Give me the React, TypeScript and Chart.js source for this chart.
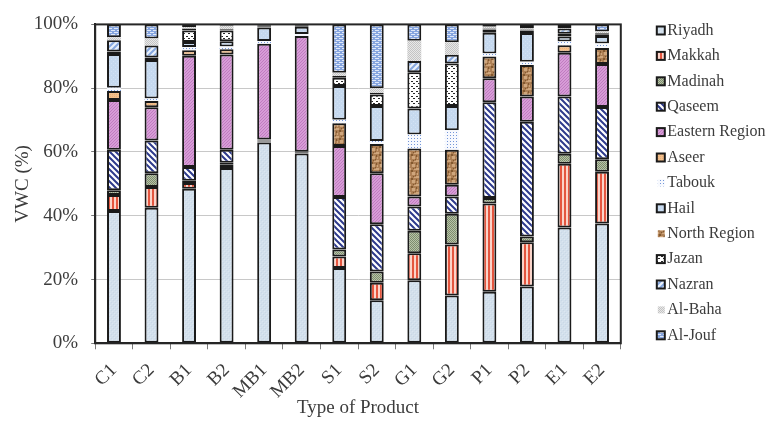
import React, { useEffect, useRef } from "react";
import { Chart, registerables } from "chart.js";

Chart.register(...registerables);

// ---------- data ----------
const CATEGORIES = ["C1", "C2", "B1", "B2", "MB1", "MB2", "S1", "S2", "G1", "G2", "P1", "P2", "E1", "E2"];

const RIYADH = [41.5, 42.5, 48.5, 55.0, 63.0, 59.5, 23.6, 13.5, 19.8, 15.0, 16.2, 17.8, 36.3, 37.6];
const MAKKAH = [5.0, 6.5, 1.8, 1.0, 0.3, 0.2, 3.6, 5.5, 8.4, 16.0, 27.6, 13.9, 20.0, 16.2];
const MADINAH = [1.5, 4.3, 0.7, 0.6, 0.3, 0.2, 2.2, 3.5, 7.1, 9.6, 1.8, 1.8, 3.1, 3.9];
const QASEEM = [12.7, 10.3, 4.3, 4.1, 0.3, 0.2, 16.5, 14.8, 7.6, 5.4, 30.0, 36.0, 18.0, 16.4];
const EASTERN_REGION = [15.6, 10.4, 34.9, 29.9, 30.0, 36.3, 16.0, 16.0, 3.1, 3.7, 7.5, 7.9, 13.7, 13.5];
const ASEER = [2.8, 2.0, 1.7, 1.6, 0, 0, 0, 0, 0, 0, 0, 0, 2.4, 0];
const NORTH_REGION = [0, 0, 0, 0, 0, 0, 7.1, 9.2, 15.1, 11.0, 6.8, 9.9, 0, 5.0];
const TABOUK = [1.0, 0.8, 1.0, 0.9, 0.9, 0.6, 1.1, 0.9, 4.4, 6.1, 1.0, 1.0, 1.1, 1.4];
const HAIL = [10.6, 12.0, 1.6, 1.6, 4.2, 2.3, 10.6, 11.0, 8.1, 7.6, 6.5, 9.0, 1.6, 2.4];
const JAZAN = [0.8, 0.8, 3.6, 3.4, 0.4, 0.3, 2.6, 3.6, 11.4, 13.3, 1.0, 0.8, 0.9, 0.5];
const NAZRAN = [3.5, 3.8, 0.6, 0.4, 0.2, 0.2, 0.5, 0.6, 3.5, 2.8, 0.3, 0.3, 1.6, 0.3];
const AL_BAHA = [1.0, 2.2, 0.5, 1.1, 0, 0, 1.0, 1.4, 6.4, 3.9, 0.6, 0.3, 0.2, 0.6];
const AL_JOUF = [4.0, 4.4, 0.8, 0.4, 0.4, 0.2, 15.2, 20.0, 5.1, 5.6, 0.7, 1.3, 1.1, 2.2];

const Y_TICKS = [0, 20, 40, 60, 80, 100];

// stacking order (bottom -> top)
const STACK: [string, number[]][] = [
  ["Riyadh", RIYADH],
  ["Makkah", MAKKAH],
  ["Madinah", MADINAH],
  ["Qaseem", QASEEM],
  ["Eastern Region", EASTERN_REGION],
  ["Aseer", ASEER],
  ["North Region", NORTH_REGION],
  ["Tabouk", TABOUK],
  ["Hail", HAIL],
  ["Jazan", JAZAN],
  ["Nazran", NAZRAN],
  ["Al-Baha", AL_BAHA],
  ["Al-Jouf", AL_JOUF],
];

const LEGEND_ORDER = [
  "Riyadh", "Makkah", "Madinah", "Qaseem", "Eastern Region", "Aseer", "Tabouk",
  "Hail", "North Region", "Jazan", "Nazran", "Al-Baha", "Al-Jouf",
];

// ---------- styles ----------
const FONT = '"Liberation Serif", "Times New Roman", serif';
const TEXT = "#3c3c3c";
const EDGE = "#1a1a1a";
const NO_BORDER = new Set(["Tabouk", "Al-Baha"]);
const LEGEND_NO_BOX = new Set(["Tabouk", "North Region", "Al-Baha"]);

type Painter = (g: CanvasRenderingContext2D) => void;
function makePattern(w: number, h: number, paint: Painter): CanvasPattern | string {
  const c = document.createElement("canvas");
  c.width = w;
  c.height = h;
  const g = c.getContext("2d");
  if (!g) return "#ccc";
  paint(g);
  return g.createPattern(c, "repeat") || "#ccc";
}

function buildFills(): Record<string, CanvasPattern | string> {
  return {
    Riyadh: makePattern(4, 4, (g) => {
      g.fillStyle = "#d3e0ec"; g.fillRect(0, 0, 4, 4);
      g.fillStyle = "#c9d8e7"; g.fillRect(1, 0, 1, 1); g.fillRect(3, 2, 1, 1);
      g.fillStyle = "#dce7f1"; g.fillRect(0, 3, 1, 1); g.fillRect(2, 1, 1, 1);
    }),
    Makkah: makePattern(4, 2, (g) => {
      g.fillStyle = "#fbd3c8"; g.fillRect(0, 0, 4, 2);
      g.fillStyle = "#e4563f"; g.fillRect(0, 0, 2, 2);
    }),
    Madinah: makePattern(2, 2, (g) => {
      g.fillStyle = "#b7c3a7"; g.fillRect(0, 0, 2, 2);
      g.fillStyle = "#7d8c6e"; g.fillRect(0, 0, 1, 1); g.fillRect(1, 1, 1, 1);
    }),
    Qaseem: makePattern(6, 6, (g) => {
      g.fillStyle = "#ffffff"; g.fillRect(0, 0, 6, 6);
      g.strokeStyle = "#2e3a8c"; g.lineWidth = 2;
      g.beginPath();
      g.moveTo(-1, -1); g.lineTo(7, 7);
      g.moveTo(-4, 2); g.lineTo(4, 10);
      g.moveTo(2, -4); g.lineTo(10, 4);
      g.stroke();
    }),
    "Eastern Region": makePattern(3, 3, (g) => {
      g.fillStyle = "#d79cd7"; g.fillRect(0, 0, 3, 3);
      g.fillStyle = "#c07cc0"; g.fillRect(2, 0, 1, 1); g.fillRect(1, 1, 1, 1); g.fillRect(0, 2, 1, 1);
    }),
    Aseer: makePattern(2, 2, (g) => {
      g.fillStyle = "#f3bf8b"; g.fillRect(0, 0, 2, 2);
      g.fillStyle = "#eab07a"; g.fillRect(0, 0, 1, 1);
    }),
    "North Region": makePattern(8, 8, (g) => {
      g.fillStyle = "#ad7f54"; g.fillRect(0, 0, 8, 8);
      g.fillStyle = "#cfa67c"; g.fillRect(0, 0, 3, 2); g.fillRect(4, 4, 3, 3); g.fillRect(6, 1, 2, 1); g.fillRect(1, 5, 1, 2);
      g.fillStyle = "#83592f"; g.fillRect(3, 2, 2, 2); g.fillRect(7, 7, 1, 1); g.fillRect(0, 3, 1, 2); g.fillRect(5, 0, 1, 1);
    }),
    Tabouk: makePattern(3, 3, (g) => {
      g.fillStyle = "#f7f9fe"; g.fillRect(0, 0, 3, 3);
      g.fillStyle = "#7396d8"; g.fillRect(0, 0, 1, 1);
    }),
    Hail: makePattern(4, 4, (g) => {
      g.fillStyle = "#c6d9ef"; g.fillRect(0, 0, 4, 4);
      g.fillStyle = "#d3e2f4"; g.fillRect(1, 1, 1, 1); g.fillRect(3, 3, 1, 1);
    }),
    Jazan: makePattern(5, 5, (g) => {
      g.fillStyle = "#ffffff"; g.fillRect(0, 0, 5, 5);
      g.fillStyle = "#2a2a2a"; g.fillRect(1, 1, 2, 1); g.fillRect(3, 3, 2, 1);
    }),
    Nazran: makePattern(6, 6, (g) => {
      g.fillStyle = "#eaf1fb"; g.fillRect(0, 0, 6, 6);
      g.strokeStyle = "#86a8e0"; g.lineWidth = 2;
      g.beginPath();
      g.moveTo(-1, 7); g.lineTo(7, -1);
      g.moveTo(-4, 4); g.lineTo(4, -4);
      g.moveTo(2, 10); g.lineTo(10, 2);
      g.stroke();
    }),
    "Al-Baha": makePattern(2, 2, (g) => {
      g.fillStyle = "#e8e8e8"; g.fillRect(0, 0, 2, 2);
      g.fillStyle = "#c4c4c4"; g.fillRect(0, 0, 1, 1); g.fillRect(1, 1, 1, 1);
    }),
    "Al-Jouf": makePattern(6, 4, (g) => {
      g.fillStyle = "#86a5df"; g.fillRect(0, 0, 6, 4);
      g.fillStyle = "#dfe8f8"; g.fillRect(0, 0, 4, 1); g.fillRect(3, 2, 4, 1); g.fillRect(0, 2, 1, 1);
    }),
  };
}

const framePlugin = {
  id: "plotFrame",
  afterDatasetsDraw(chart: any) {
    const { ctx, chartArea: a } = chart;
    ctx.save();
    ctx.strokeStyle = "#262626";
    ctx.lineWidth = 2;
    ctx.strokeRect(a.left, a.top, a.right - a.left, a.bottom - a.top);
    ctx.restore();
  },
};

const sideLegendPlugin = {
  id: "sideLegend",
  afterDraw(chart: any) {
    const { ctx } = chart;
    const x0 = chart.chartArea.right + 36;
    const y0 = 30.5;
    const step = 25.4;
    ctx.save();
    ctx.font = `16px ${FONT}`;
    ctx.textBaseline = "middle";
    ctx.textAlign = "left";
    LEGEND_ORDER.forEach((name, i) => {
      const ds = chart.data.datasets.find((d: any) => d.label === name);
      const y = y0 + i * step;
      if (ds) {
        ctx.fillStyle = ds.backgroundColor;
        if (LEGEND_NO_BOX.has(name)) {
          ctx.fillRect(x0 + 1, y - 3.5, 7, 7);
        } else {
          ctx.fillRect(x0, y - 4, 8, 8);
          ctx.strokeStyle = EDGE;
          ctx.lineWidth = 2;
          ctx.strokeRect(x0, y - 4, 8, 8);
        }
      }
      ctx.fillStyle = TEXT;
      ctx.fillText(name, x0 + 10.5, y);
    });
    ctx.restore();
  },
};

export default function App() {
  const ref = useRef<HTMLCanvasElement | null>(null);

  useEffect(() => {
    if (!ref.current) return;
    const fills = buildFills();
    const datasets = STACK.map(([label, values]) => ({
      label,
      data: values,
      backgroundColor: fills[label],
      borderColor: EDGE,
      borderWidth: NO_BORDER.has(label) ? 0 : 2,
      borderSkipped: false as const,
      categoryPercentage: 1.0,
      barPercentage: 0.37,
    }));

    const chart = new Chart(ref.current, {
      type: "bar",
      data: { labels: CATEGORIES, datasets },
      plugins: [framePlugin, sideLegendPlugin],
      options: {
        animation: false,
        responsive: true,
        maintainAspectRatio: false,
        layout: { padding: { left: 0, right: 148.2, top: 15.5, bottom: 0 } },
        font: { family: FONT, size: 19 },
        plugins: {
          legend: { display: false },
          tooltip: { enabled: false },
        },
        scales: {
          x: {
            stacked: true,
            afterFit: (s: any) => { s.height = 78.7; },
            grid: { display: true, drawOnChartArea: false, tickLength: 6, color: "#7a7a7a", offset: true },
            border: { display: true, color: "#262626", width: 2 },
            ticks: {
              autoSkip: false,
              maxRotation: 45,
              minRotation: 45,
              padding: 10,
              color: TEXT,
              font: { family: FONT, size: 19 },
            },
            title: {
              display: true,
              text: "Type of Product",
              color: TEXT,
              font: { family: FONT, size: 19 },
              padding: { top: 0, bottom: 3 },
            },
          },
          y: {
            stacked: true,
            min: 0,
            max: 100,
            afterFit: (s: any) => { s.width = 95.2; },
            afterBuildTicks: (s: any) => { s.ticks = Y_TICKS.map((v) => ({ value: v })); },
            grid: { color: "#c8c8c8", lineWidth: 1, tickLength: 4, tickColor: "#7a7a7a" },
            border: { display: true, color: "#262626", width: 2 },
            ticks: {
              padding: 13,
              color: TEXT,
              font: { family: FONT, size: 19 },
              callback: (v: any) => `${v}%`,
            },
            title: {
              display: true,
              text: "VWC (%)",
              color: TEXT,
              font: { family: FONT, size: 19 },
              padding: { top: 12, bottom: 0 },
            },
          },
        },
      },
    });
    return () => chart.destroy();
  }, []);

  return (
    <div style={{ position: "absolute", left: 0, top: 0, width: 769, height: 422 }}>
      <canvas ref={ref} />
    </div>
  );
}
